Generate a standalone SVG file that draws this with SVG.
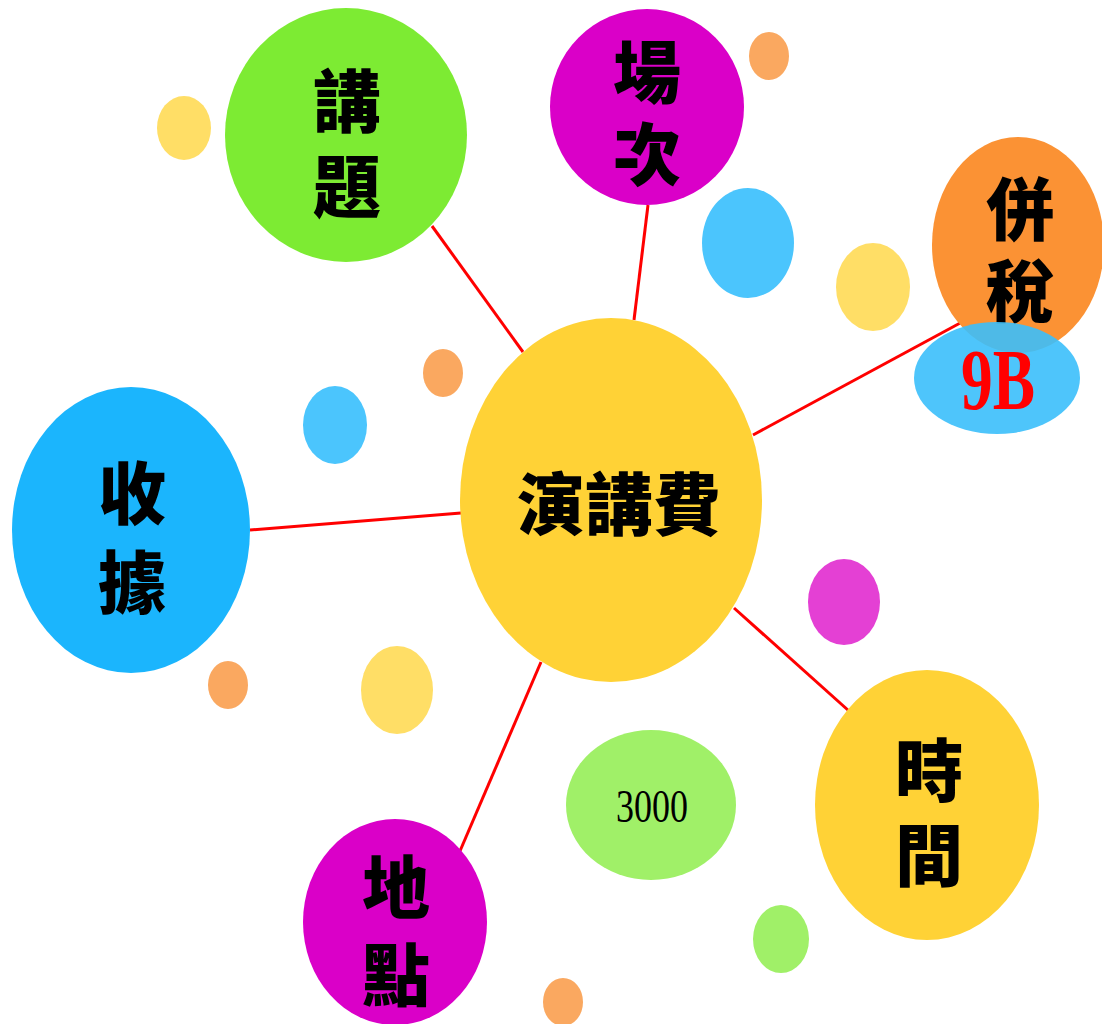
<svg xmlns="http://www.w3.org/2000/svg" width="1102" height="1024" viewBox="0 0 1102 1024">
<style>
.n{font-family:"Noto Sans CJK TC","Noto Sans CJK SC",sans-serif;font-weight:900;font-size:68px;fill:#000;text-anchor:middle}
.v{writing-mode:vertical-rl}
.c{dominant-baseline:central}
.ln{stroke:#FF0000;stroke-width:3;fill:none}
.yel{fill:#FFD236}.mag{fill:#DA00C8}.grn{fill:#7DEB33}.org{fill:#FB9234}.blu{fill:#1BB5FD}
.dy{fill:#FFDE66}.do{fill:#FAA860}.db{fill:#4BC5FD}.dm{fill:#E440D4}.dg{fill:#A0F068}
</style>
<rect width="1102" height="1024" fill="#fff"/>
<g id="decor">
<ellipse class="dy" cx="184" cy="128" rx="27" ry="32"/>
<ellipse class="do" cx="769" cy="56" rx="20" ry="24"/>
<ellipse class="db" cx="748" cy="243" rx="46" ry="55"/>
<ellipse class="dy" cx="873" cy="287" rx="37" ry="44"/>
<ellipse class="do" cx="443" cy="373" rx="20" ry="24"/>
<ellipse class="db" cx="335" cy="425" rx="32" ry="39"/>
<ellipse class="dm" cx="844" cy="602" rx="36" ry="43"/>
<ellipse class="do" cx="228" cy="685" rx="20" ry="24"/>
<ellipse class="dy" cx="397" cy="690" rx="36" ry="44"/>
<ellipse class="dg" cx="781" cy="939" rx="28" ry="34"/>
<ellipse class="do" cx="563" cy="1002" rx="20" ry="24"/>
</g>
<g id="connectors">
<line class="ln" x1="432" y1="226" x2="523" y2="352"/>
<line class="ln" x1="648" y1="205" x2="634" y2="320"/>
<line class="ln" x1="753" y1="435" x2="962" y2="322"/>
<line class="ln" x1="250" y1="530" x2="461" y2="513"/>
<line class="ln" x1="734" y1="608" x2="849" y2="711"/>
<line class="ln" x1="541" y1="662" x2="460" y2="851"/>
</g>
<g id="center">
<ellipse class="yel" cx="611" cy="500" rx="151" ry="182"/>
<text class="n c" x="619" y="500" font-size="72">演講費</text>
</g>
<g id="topic">
<ellipse class="grn" cx="346" cy="135" rx="121" ry="127"/>
<text class="n v" x="347" y="101 186">講題</text>
</g>
<g id="session">
<ellipse class="mag" cx="647" cy="107" rx="97" ry="98"/>
<text class="n v" x="647" y="72 154">場次</text>
</g>
<g id="tax">
<ellipse class="org" cx="1018" cy="245" rx="86" ry="108"/>
<text class="n v" x="1020" y="209 291">併稅</text>
</g>
<g id="tax9b">
<ellipse cx="997" cy="378" rx="83" ry="56" fill="#3BBFFB" fill-opacity="0.9"/>
<text x="998" y="409" font-family="Liberation Serif,serif" font-weight="bold" font-size="86" fill="#FF0000" text-anchor="middle" textLength="74" lengthAdjust="spacingAndGlyphs">9B</text>
</g>
<g id="receipt">
<ellipse class="blu" cx="131" cy="530" rx="119" ry="143"/>
<text class="n v" x="132" y="493 582">收據</text>
</g>
<g id="time">
<ellipse class="yel" cx="927" cy="805" rx="112" ry="135"/>
<text class="n v" x="929" y="770 855">時間</text>
</g>
<g id="place">
<ellipse class="mag" cx="395" cy="922" rx="92" ry="103"/>
<text class="n v" x="396" y="887 975">地點</text>
</g>
<g id="amount">
<ellipse class="dg" cx="651" cy="805" rx="85" ry="75"/>
<text x="652" y="822" font-family="Liberation Serif,serif" font-size="46" fill="#000" text-anchor="middle" textLength="72" lengthAdjust="spacingAndGlyphs">3000</text>
</g>
</svg>
